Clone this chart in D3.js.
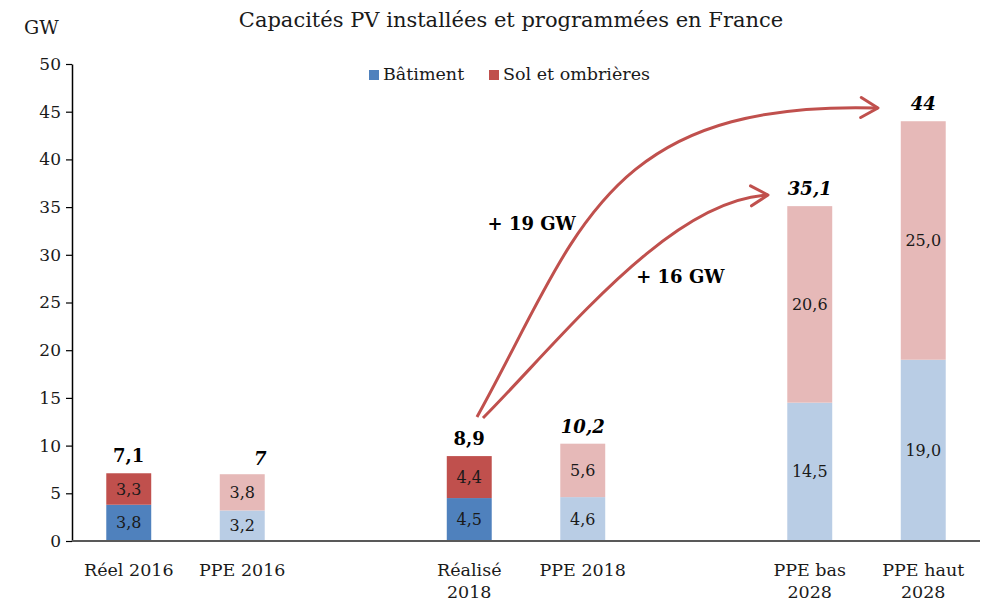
<!DOCTYPE html>
<html>
<head>
<meta charset="utf-8">
<script src="https://cdn.jsdelivr.net/npm/d3@7"></script>
<style>
  html, body { margin: 0; padding: 0; background: #fff; }
  svg { display: block; font-family: "DejaVu Serif", "Liberation Serif", serif; }
</style>
</head>
<body>
<svg id="chart" width="987" height="604"></svg>
<script>
// Slots on the horizontal axis (empty strings keep the gaps between years)
const slots = ["Réel 2016", "PPE 2016", "", "Réalisé 2018", "PPE 2018", "", "PPE bas 2028", "PPE haut 2028"];
const categories = ["Réel 2016", "PPE 2016", "Réalisé 2018", "PPE 2018", "PPE bas 2028", "PPE haut 2028"];
const categoryLines = [["Réel 2016"], ["PPE 2016"], ["Réalisé", "2018"], ["PPE 2018"], ["PPE bas", "2028"], ["PPE haut", "2028"]];
const batiment = [3.8, 3.2, 4.5, 4.6, 14.5, 19.0];
const solOmbrieres = [3.3, 3.8, 4.4, 5.6, 20.6, 25.0];
const totals = [7.1, 7, 8.9, 10.2, 35.1, 44];
const totalLabels = ["7,1", "7", "8,9", "10,2", "35,1", "44"];
const isActual = [true, false, true, false, false, false];
const seriesNames = ["Bâtiment", "Sol et ombrières"];
const yTicks = [0, 5, 10, 15, 20, 25, 30, 35, 40, 45, 50];

// Growth arrows: from Réalisé 2018 towards the 2028 targets
// (positions given as slot index / GW value)
const arrows = [
  { label: "+ 19 GW", pts: [[3.068, 13.0], [3.958, 32.08], [4.170, 46.23], [6.601, 45.39]], labelAt: [3.55, 33.3] },
  { label: "+ 16 GW", pts: [[3.121, 12.89], [3.844, 21.59], [4.769, 35.74], [5.632, 36.27]], labelAt: [4.86, 27.7] }
];

const colors = {
  batiment: { actual: "#4F81BD", plan: "#B9CDE5" },
  sol: { actual: "#C0504D", plan: "#E6B9B8" }
};
const arrowColor = "#C0504D";
const textColor = "#1a1a1a";

const svg = d3.select("#chart");
const plotLeft = 72, plotRight = 980, plotTop = 64, plotBottom = 541;

const x = d3.scaleBand().domain(slots.map((s, i) => s || "gap" + i)).range([plotLeft, plotRight])
  .paddingInner(0.604).paddingOuter(0.302);
const y = d3.scaleLinear().domain([0, 50]).range([plotBottom, plotTop]);
const step = x.step();
const slotCenter = i => x(x.domain()[0]) + x.bandwidth() / 2 + i * step;
const cx = c => x(c) + x.bandwidth() / 2;

// Title and unit
svg.append("text").attr("x", 511).attr("y", 27).attr("text-anchor", "middle")
  .attr("font-size", 21).attr("fill", textColor).text("Capacités PV installées et programmées en France");
svg.append("text").attr("x", 24).attr("y", 34).attr("font-size", 19).attr("fill", textColor).text("GW");

// Legend
const legend = svg.append("g");
[[369, seriesNames[0], colors.batiment.actual], [489, seriesNames[1], colors.sol.actual]].forEach(([lx, name, col]) => {
  legend.append("rect").attr("x", lx).attr("y", 70).attr("width", 10).attr("height", 10).attr("fill", col);
  legend.append("text").attr("x", lx + 14).attr("y", 80).attr("font-size", 17.5).attr("fill", textColor).text(name);
});

// Stacked bars
const bars = svg.append("g");
const fmt = v => d3.format(".1f")(v).replace(".", ",");
categories.forEach((c, i) => {
  const kind = isActual[i] ? "actual" : "plan";
  const b = batiment[i], s = solOmbrieres[i];
  bars.append("rect").attr("x", x(c)).attr("width", x.bandwidth())
    .attr("y", y(b)).attr("height", y(0) - y(b)).attr("fill", colors.batiment[kind]);
  bars.append("rect").attr("x", x(c)).attr("width", x.bandwidth())
    .attr("y", y(b + s)).attr("height", y(b) - y(b + s)).attr("fill", colors.sol[kind]);
  bars.append("text").attr("x", cx(c)).attr("y", y(b / 2)).attr("dy", "0.35em")
    .attr("text-anchor", "middle").attr("font-size", 16).attr("fill", textColor).text(fmt(b));
  bars.append("text").attr("x", cx(c)).attr("y", y(b + s / 2)).attr("dy", "0.35em")
    .attr("text-anchor", "middle").attr("font-size", 16).attr("fill", textColor).text(fmt(s));
  bars.append("text").attr("x", cx(c) + (totalLabels[i] === "7" ? 18 : 0)).attr("y", y(totals[i]) - (totalLabels[i] === "7" ? 9 : 11))
    .attr("text-anchor", "middle").attr("font-size", 18).attr("font-weight", "bold")
    .attr("font-style", isActual[i] ? "normal" : "italic").attr("fill", "#000").text(totalLabels[i]);
});

// Y axis
const yAxis = svg.append("g").attr("transform", `translate(${plotLeft},0)`)
  .call(d3.axisLeft(y).tickValues(yTicks).tickSize(6).tickSizeOuter(0).tickPadding(5));
yAxis.select(".domain").attr("stroke", "#000").attr("stroke-width", 1.5);
yAxis.selectAll(".tick line").attr("stroke", "#000").attr("stroke-width", 1.2);
yAxis.selectAll("text").attr("font-size", 17).attr("font-family", "DejaVu Serif").attr("fill", textColor);

// X axis baseline
svg.append("line").attr("x1", plotLeft).attr("x2", plotRight).attr("y1", y(0)).attr("y2", y(0))
  .attr("stroke", "#595959").attr("stroke-width", 2);

// Category labels
categories.forEach((c, i) => {
  const t = svg.append("text").attr("text-anchor", "middle").attr("font-size", 17.5).attr("fill", textColor);
  categoryLines[i].forEach((line, k) => {
    t.append("tspan").attr("x", cx(c)).attr("y", 576 + k * 22).text(line);
  });
});

// Arrows
const defs = svg.append("defs");
defs.append("marker").attr("id", "chev").attr("markerUnits", "userSpaceOnUse")
  .attr("viewBox", "0 0 22 24").attr("refX", 19).attr("refY", 12)
  .attr("markerWidth", 22).attr("markerHeight", 24).attr("orient", "auto")
  .append("path").attr("d", "M2,2 L19,12 L2,22").attr("fill", "none")
  .attr("stroke", arrowColor).attr("stroke-width", 3).attr("stroke-linecap", "round").attr("stroke-linejoin", "round");

arrows.forEach(a => {
  const p = a.pts.map(([i, v]) => [slotCenter(i), y(v)]);
  const path = d3.path();
  path.moveTo(p[0][0], p[0][1]);
  path.bezierCurveTo(p[1][0], p[1][1], p[2][0], p[2][1], p[3][0], p[3][1]);
  svg.append("path").attr("d", path.toString()).attr("fill", "none")
    .attr("stroke", arrowColor).attr("stroke-width", 3).attr("marker-end", "url(#chev)");
  svg.append("text").attr("x", slotCenter(a.labelAt[0])).attr("y", y(a.labelAt[1])).attr("dy", "0.35em")
    .attr("text-anchor", "middle").attr("font-size", 18).attr("font-weight", "bold").attr("fill", "#000").text(a.label);
});
</script>
</body>
</html>
